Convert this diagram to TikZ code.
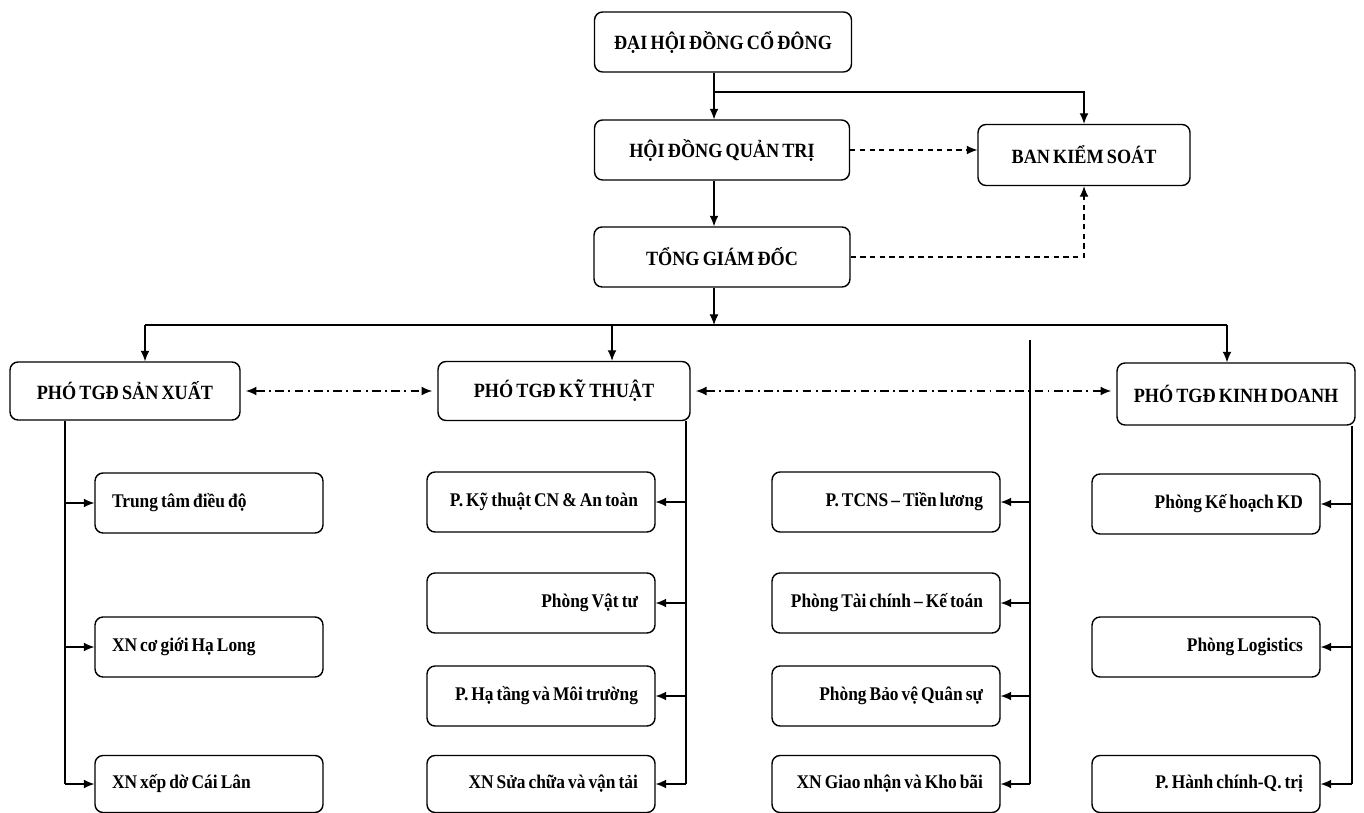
\documentclass[tikz,border=0pt]{standalone}
\usepackage{fontspec}
\setmainfont{Liberation Serif}[FakeStretch=0.9,WordSpace=0.7]
\usetikzlibrary{arrows.meta}
\newcommand{\unitl}[1]{\makebox[3.88cm][l]{#1}}
\newcommand{\unitr}[1]{\makebox[3.88cm][r]{#1}}

\begin{document}
\begin{tikzpicture}[x=0.02cm,y=-0.02cm,
  box/.style={draw,line width=0.8pt,rounded corners=0.16cm,font=\bfseries\fontsize{11}{13}\selectfont},
  head/.style={box,minimum height=1.2cm,font=\bfseries\fontsize{11.5}{13}\selectfont},
  unit/.style={box,minimum height=1.2cm,minimum width=4.56cm,inner xsep=0.34cm},
  link/.style={line width=0.6pt},
  arr/.style={link,-{Latex[length=6pt,width=5pt]}},
  ctrl/.style={arr,dash pattern=on 3pt off 2.5pt},
  coop/.style={link,{Latex[length=6pt,width=5pt]}-{Latex[length=6pt,width=5pt]},dash pattern=on 5pt off 2.5pt on 1pt off 2.5pt}]
\useasboundingbox (0,0) rectangle (1364,813);

% top level
\node[head,minimum width=5.14cm] (dhcd) at (723,42) {ĐẠI HỘI ĐỒNG CỔ ĐÔNG};
\node[head,minimum width=5.1cm] (hdqt) at (722,150) {HỘI ĐỒNG QUẢN TRỊ};
\node[head,minimum width=5.12cm] (tgd) at (722,257) {TỔNG GIÁM ĐỐC};
\node[head,minimum width=4.24cm,minimum height=1.22cm] (bks) at (1084,155) {BAN KIỂM SOÁT};

% deputies
\node[head,minimum width=4.6cm,minimum height=1.16cm] (sx) at (125,391) {PHÓ TGĐ SẢN XUẤT};
\node[head,minimum width=5.04cm,minimum height=1.18cm] (kt) at (564,391) {PHÓ TGĐ KỸ THUẬT};
\node[head,minimum width=4.76cm,minimum height=1.24cm] (kd) at (1236,394) {PHÓ TGĐ KINH DOANH};

% units
\node[unit] (ttdd) at (209,503) {\unitl{Trung tâm điều độ}};
\node[unit] (xncg) at (209,647) {\unitl{XN cơ giới Hạ Long}};
\node[unit,minimum height=1.14cm] (xnxd) at (209,784) {\unitl{XN xếp dờ Cái Lân}};

\node[unit] (pkt) at (541,502) {\unitr{P. Kỹ thuật CN \& An toàn}};
\node[unit] (pvt) at (541,603) {\unitr{Phòng Vật tư}};
\node[unit] (pht) at (541,696) {\unitr{P. Hạ tầng và Môi trường}};
\node[unit,minimum height=1.14cm] (xnsc) at (541,784) {\unitr{XN Sửa chữa và vận tải}};

\node[unit] (tcns) at (886,502) {\unitr{P. TCNS – Tiền lương}};
\node[unit] (tckt) at (886,603) {\unitr{Phòng Tài chính – Kế toán}};
\node[unit] (bvqs) at (886,696) {\unitr{Phòng Bảo vệ Quân sự}};
\node[unit,minimum height=1.14cm] (xngn) at (886,784) {\unitr{XN Giao nhận và Kho bãi}};

\node[unit] (khkd) at (1206,504) {\unitr{Phòng Kế hoạch KD}};
\node[unit] (plog) at (1206,647) {\unitr{Phòng Logistics}};
\node[unit,minimum height=1.14cm] (hcqt) at (1206,784) {\unitr{P. Hành chính-Q. trị}};

% helper points
\coordinate (spine) at (714,0);
\coordinate (split) at (714,92);
\coordinate (bus) at (714,325);
\coordinate (busL) at (145,325);
\coordinate (busK) at (612,325);
\coordinate (busR) at (1227,325);
\coordinate (lcol) at (65,0);
\coordinate (kcol) at (686,0);
\coordinate (mtop) at (1030,340);
\coordinate (rcol) at (1352,0);

% chain of command
\draw[arr] (dhcd.south -| spine) -- (hdqt.north -| spine);
\draw[arr] (split) -| (bks.north);
\draw[arr] (hdqt.south -| spine) -- (tgd.north -| spine);
\draw[arr] (tgd.south -| spine) -- (bus);
\draw[link] (busL) -- (busR);
\draw[arr] (busL) -- (busL |- sx.north);
\draw[arr] (busK) -- (busK |- kt.north);
\draw[arr] (busR) -- (busR |- kd.north);

% supervision
\draw[ctrl] (hdqt.east) -- (hdqt.east -| bks.west);
\draw[ctrl] (tgd.east) -| (bks.south);

% cooperation
\draw[coop,shorten <=3pt,shorten >=3pt] (sx.east) -- (kt.west);
\draw[coop,shorten <=3pt,shorten >=3pt] (kt.east) -- (kd.west |- kt.east);

% columns
\draw[link] (sx.south -| lcol) -- (lcol |- xnxd.west);
\foreach \n in {ttdd,xncg,xnxd}
  \draw[arr] (lcol |- \n.west) -- (\n.west);

\draw[link] (kt.south -| kcol) -- (kcol |- xnsc.east);
\foreach \n in {pkt,pvt,pht,xnsc}
  \draw[arr] (kcol |- \n.east) -- (\n.east);

\draw[link] (mtop) -- (mtop |- xngn.east);
\foreach \n in {tcns,tckt,bvqs,xngn}
  \draw[arr] (mtop |- \n.east) -- (\n.east);

\draw[link] (kd.south -| rcol) -- (rcol |- hcqt.east);
\foreach \n in {khkd,plog,hcqt}
  \draw[arr] (rcol |- \n.east) -- (\n.east);
\end{tikzpicture}
\end{document}
